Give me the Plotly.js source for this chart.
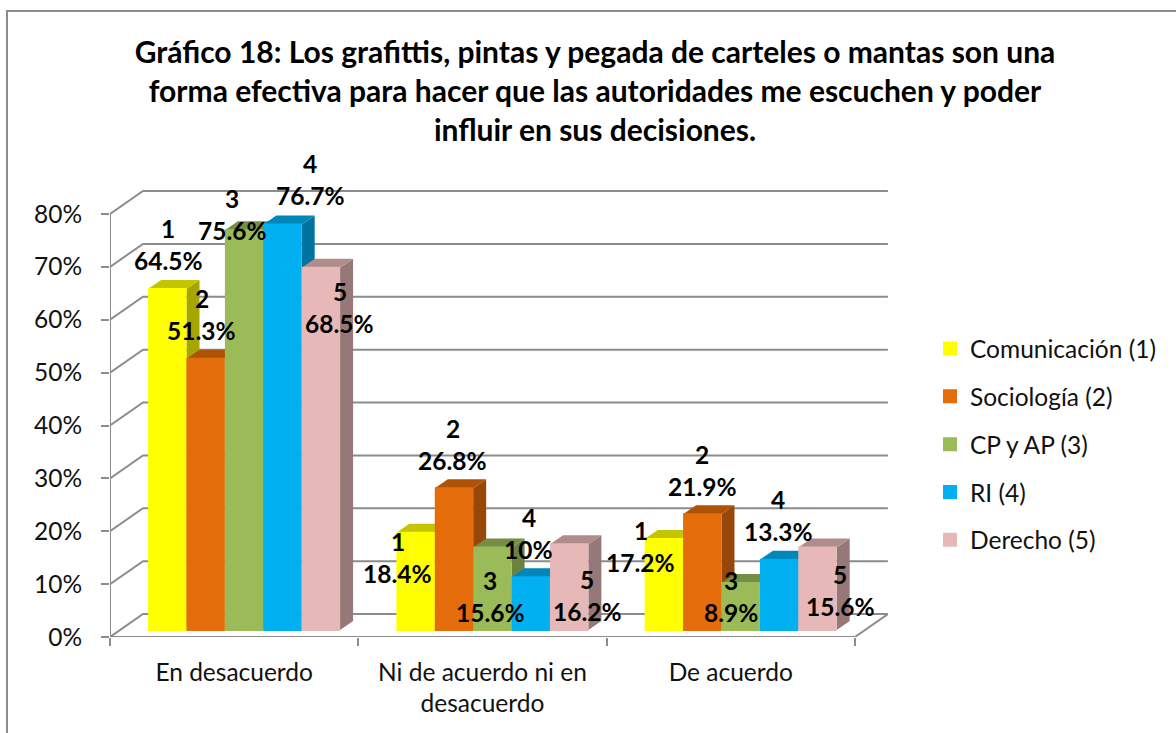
<!DOCTYPE html>
<html>
<head>
<meta charset="utf-8">
<script src="https://cdn.plot.ly/plotly-3.0.1.min.js"></script>
<style>html,body{margin:0;padding:0;background:#fff;overflow:hidden}</style>
</head>
<body>
<div id="chart" style="width:1176px;height:733px"></div>
<script>
// ---- data ----
var categories = ['En desacuerdo', 'Ni de acuerdo ni en<br>desacuerdo', 'De acuerdo'];
var seriesNames = ['Comunicación (1)', 'Sociología (2)', 'CP y AP (3)', 'RI (4)', 'Derecho (5)'];
var comunicacion = [64.5, 18.4, 17.2];
var sociologia = [51.3, 26.8, 21.9];
var cpAp = [75.6, 15.6, 8.9];
var ri = [76.7, 10, 13.3];
var derecho = [68.5, 16.2, 15.6];
var yTicks = [0, 10, 20, 30, 40, 50, 60, 70, 80];
var titleText = 'Gráfico 18: Los grafittis, pintas y pegada de carteles o mantas son una<br>' +
  'forma efectiva para hacer que las autoridades me escuchen y poder<br>influir en sus decisiones.';

// ---- styles ----
var frontColors = ['#FFFF00', '#E46C0A', '#9BBB59', '#00B0F0', '#E6B9B8'];
var sideColors = ['#A6A600', '#964709', '#6C8240', '#0073A0', '#967878'];
var topColors = ['#C4C400', '#AD5207', '#768E44', '#0086B8', '#AF8D8C'];
var gridColor = '#8C8C8C';
var textFont = 'Lato, Carlito, Calibri, sans-serif';
var textSize = 24.5;

// ---- geometry (pixels per axis unit, depth of the fake 3D) ----
var pxX = 248.3, pxY = 5.2875;
var values = [comunicacion, sociologia, cpAp, ri, derecho];
var groupShift = 0.04;
var slot = 38.4 / pxX;
var barW = 36.4 / pxX;
var barBase = 7 / pxY;
var wallDX = 33 / pxX, wallDY = 23 / pxY;
var barDX = 13 / pxX, barDY = 9 / pxY;
var xMin = -0.5, xMax = xMin + 778 / pxX, yMax = 457 / pxY;
var xRight = 2.5;

var traces = [];
// walls and floor
var gx = [], gy = [];
yTicks.forEach(function (t) {
  gx.push(xMin, xMin + wallDX, xRight + wallDX, null);
  gy.push(t, t + wallDY, t + wallDY, null);
});
gx.push(xRight, xRight + wallDX, null);
gy.push(0, wallDY, null);
traces.push({x: gx, y: gy, mode: 'lines', line: {color: gridColor, width: 2}, hoverinfo: 'skip', showlegend: false, cliponaxis: false});
traces.push({x: [xMin, xMin, null, xMin, xRight], y: [0, 80, null, 0, 0], mode: 'lines', line: {color: gridColor, width: 2}, hoverinfo: 'skip', showlegend: false, cliponaxis: false});

// depth faces, drawn in the subplot behind the bars
values.forEach(function (vals, k) {
  var sx = [], sy = [], tx = [], ty = [];
  vals.forEach(function (v, g) {
    var left = g + groupShift + (k - 2.5) * slot;
    var right = left + slot;
    var top = barBase + v;
    sx.push(right, right + barDX, right + barDX, right, null);
    sy.push(top, top + barDY, barBase + barDY, barBase, null);
    tx.push(left, left + barDX, right + barDX, right, null);
    ty.push(top, top + barDY, top + barDY, top, null);
  });
  traces.push({x: sx, y: sy, mode: 'lines', fill: 'toself', fillcolor: sideColors[k], line: {width: 0, color: sideColors[k]}, hoverinfo: 'skip', showlegend: false});
  traces.push({x: tx, y: ty, mode: 'lines', fill: 'toself', fillcolor: topColors[k], line: {width: 0, color: topColors[k]}, hoverinfo: 'skip', showlegend: false});
});

// front faces
values.forEach(function (vals, k) {
  traces.push({
    type: 'bar', name: seriesNames[k], legendgroup: 'g' + k, yaxis: 'y2',
    x: categories.map(function (c, g) { return g + groupShift; }),
    y: vals, base: vals.map(function () { return barBase; }),
    width: barW, offset: (k - 2.5) * slot + (slot - barW) / 2,
    marker: {color: frontColors[k], line: {color: frontColors[k], width: 2}}
  });
});

// data labels: offset of the label centre from the bar's top centre, in pixels
var labelDX = [[1, -4, -12, 28, 19], [-18, -1, -2, -2, 18], [-23, 0, -10, -1, 23]];
var labelDY = [[-44, -44, -16, -45, 40], [25, -44, 49, -44, 51], [7, -44, 14, -44, 43]];
var labelGap = 16;
var annotations = [];
values.forEach(function (vals, k) {
  vals.forEach(function (v, g) {
    var cx = g + groupShift + (k - 2) * slot;
    var cy = barBase + v;
    var base = {xref: 'x', yref: 'y', x: cx, y: cy, showarrow: false, xanchor: 'center', yanchor: 'middle',
      font: {family: textFont, size: textSize, color: '#000'}};
    annotations.push(Object.assign({}, base, {text: '<b>' + (k + 1) + '</b>', xshift: labelDX[g][k], yshift: -(labelDY[g][k] - labelGap)}));
    annotations.push(Object.assign({}, base, {text: '<b>' + v + '%</b>', xshift: labelDX[g][k], yshift: -(labelDY[g][k] + labelGap)}));
  });
});

var layout = {
  width: 1176, height: 733,
  margin: {l: 110, r: 288, t: 180, b: 96, pad: 0},
  paper_bgcolor: '#fff', plot_bgcolor: 'rgba(0,0,0,0)',
  font: {family: textFont, size: textSize, color: '#111'},
  title: {text: '<b>' + titleText + '</b>', font: {family: textFont, size: 30, color: '#000'},
    x: 595 / 1176, xanchor: 'center', xref: 'container', y: 1 - 63 / 733, yanchor: 'top', yref: 'container'},
  barmode: 'overlay',
  showlegend: true,
  legend: {x: 930 / 1176, xref: 'container', xanchor: 'left', y: 1 - 326 / 733, yref: 'container', yanchor: 'top',
    tracegroupgap: 13, bgcolor: 'rgba(0,0,0,0)', font: {family: textFont, size: textSize, color: '#111'}},
  xaxis: {range: [xMin, xMax], tickmode: 'array', tickvals: [0, 1, 2], ticktext: categories, ticks: '', ticklabelstandoff: 18,
    showgrid: false, zeroline: false, showline: false, fixedrange: true,
    minor: {tickmode: 'array', tickvals: [-0.5, 0.5, 1.5, 2.5], ticks: 'outside', ticklen: 8, tickwidth: 2, tickcolor: gridColor, showgrid: false}},
  yaxis: {range: [0, yMax], tickmode: 'array', tickvals: yTicks, ticktext: yTicks.map(function (t) { return t + '%'; }),
    ticks: 'outside', ticklen: 8, tickwidth: 2, tickcolor: gridColor, ticklabelstandoff: 14,
    showgrid: false, zeroline: false, showline: false, fixedrange: true},
  yaxis2: {range: [0, yMax], overlaying: 'y', side: 'left', visible: false, fixedrange: true},
  annotations: annotations,
  shapes: [{type: 'rect', xref: 'paper', yref: 'paper', layer: 'below',
    x0: -103 / 778, x1: 1200 / 778, y0: -1, y1: 1 + 169 / 457, line: {color: gridColor, width: 2}, fillcolor: 'rgba(0,0,0,0)'}]
};

Plotly.newPlot('chart', traces, layout, {displayModeBar: false, responsive: false});
</script>
</body>
</html>
